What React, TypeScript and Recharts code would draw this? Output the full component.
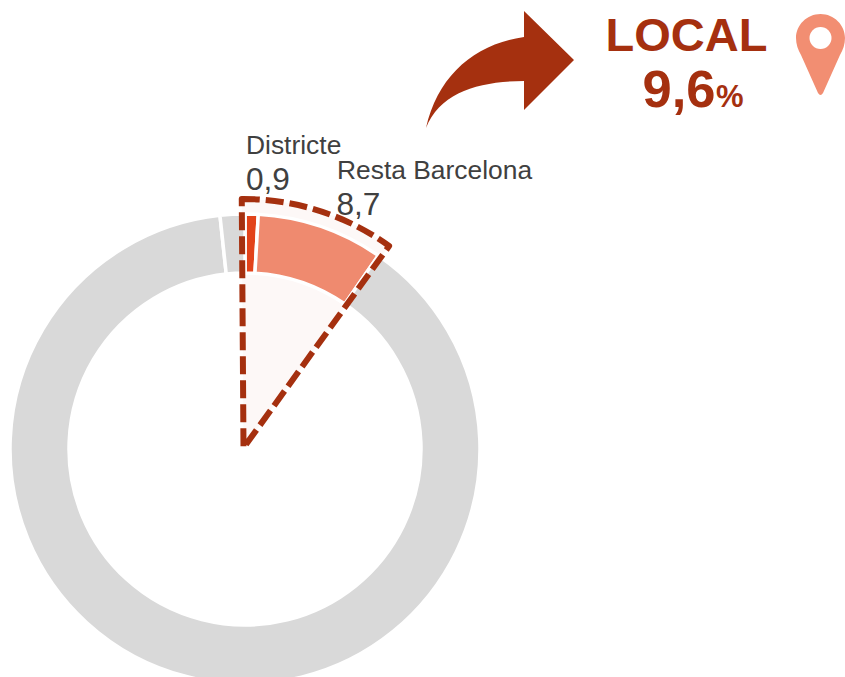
import React from "react";
import { PieChart, Pie, Cell } from "recharts";

const ringNames = ["Districte", "Resta Barcelona", "Altres", "Altres (2)"];
const ringValues = [0.9, 8.7, 88.7, 1.7];
const ringColors = ["#E2431A", "#EF8A6F", "#D9D9D9", "#D9D9D9"];

const highlightNames = ["Local", "Resta"];
const highlightValues = [10.05, 89.95];

const ringData = ringNames.map((name, i) => ({ name, value: ringValues[i] }));
const highlightData = highlightNames.map((name, i) => ({ name, value: highlightValues[i] }));

const FONT = "'Liberation Sans', Arial, sans-serif";
const DARK = "#A5300F";
const TEXT = "#404040";

const highlightGeometry = {
  cx: 243.5,
  cy: 448,
  innerRadius: 0,
  outerRadius: 249,
  startAngle: 90.4,
  endAngle: -269.6,
};

export default function App() {
  return (
    <div style={{ position: "absolute", left: 0, top: 0, width: 845, height: 677, overflow: "hidden" }}>
      <PieChart width={845} height={677} margin={{ top: 0, right: 0, bottom: 0, left: 0 }}>
        <Pie
          data={highlightData}
          dataKey="value"
          {...highlightGeometry}
          isAnimationActive={false}
          label={false}
          labelLine={false}
        >
          <Cell fill="#FDF8F7" stroke="none" />
          <Cell fill="none" stroke="none" />
        </Pie>
        <Pie
          data={ringData}
          dataKey="value"
          cx={245}
          cy={449}
          innerRadius={176}
          outerRadius={235}
          startAngle={90}
          endAngle={-270}
          isAnimationActive={false}
          label={false}
          labelLine={false}
        >
          {ringData.map((d, i) => (
            <Cell key={d.name} fill={ringColors[i]} stroke="#FFFFFF" strokeWidth={3.5} />
          ))}
        </Pie>
        <Pie
          data={highlightData}
          dataKey="value"
          {...highlightGeometry}
          isAnimationActive={false}
          label={false}
          labelLine={false}
        >
          <Cell fill="none" stroke={DARK} strokeWidth={6} strokeDasharray="18 6" strokeLinejoin="round" />
          <Cell fill="none" stroke="none" />
        </Pie>
        <g fontFamily={FONT}>
          <text x={246} y={154} fontSize={26.4} fill={TEXT}>{ringNames[0]}</text>
          <text x={246} y={190} fontSize={31.6} fill={TEXT}>{String(ringValues[0]).replace(".", ",")}</text>
          <text x={337} y={179} fontSize={26.4} fill={TEXT}>{ringNames[1]}</text>
          <text x={336.5} y={215} fontSize={31.6} fill={TEXT}>{String(ringValues[1]).replace(".", ",")}</text>
          <text x={686.5} y={51} fontSize={47} fontWeight="bold" fill={DARK} textAnchor="middle">LOCAL</text>
          <text x={642.5} y={107} fontSize={52.5} fontWeight="bold" fill={DARK}>9,6</text>
          <text x={716} y={107} fontSize={31} fontWeight="bold" fill={DARK}>%</text>
        </g>
        <path
          d="M426 128 C438 75 475 44 524 37 L524 11 L574 60 L524 110 L524 81 C480 81 440 92 426 128 Z"
          fill={DARK}
        />
        <path
          d="M820.5 14 C834 14 845 25 845 38 C845 44 843 50 840 55 L823 93 Q820.5 97 818 93 L801 55 C798 50 796 44 796 38 C796 25 807 14 820.5 14 Z"
          fill="#F28E72"
        />
        <circle cx={820.5} cy={38} r={11} fill="#FFFFFF" />
      </PieChart>
    </div>
  );
}
